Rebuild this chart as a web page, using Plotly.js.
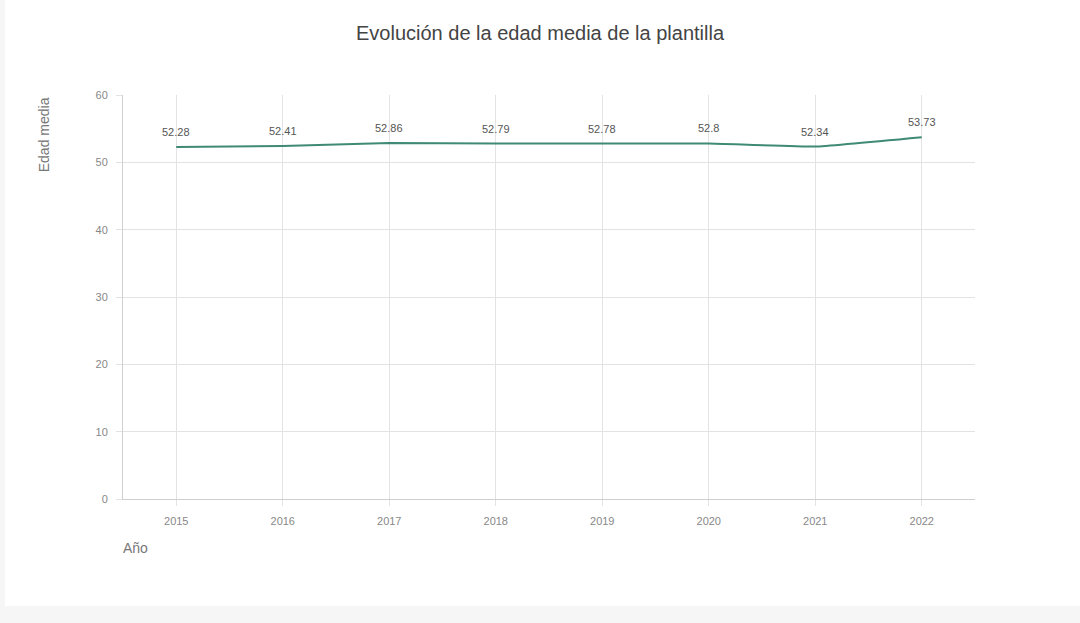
<!DOCTYPE html>
<html>
<head>
<meta charset="utf-8">
<script src="https://cdn.plot.ly/plotly-3.0.1.min.js"></script>
<style>
  html, body { margin: 0; padding: 0; width: 1080px; height: 623px; overflow: hidden; background: #f6f6f6; }
  #card { position: absolute; left: 5px; top: 0; width: 1075px; height: 606px; background: #ffffff; }
  #chart { position: absolute; left: 0; top: 0; width: 1080px; height: 623px; }
</style>
</head>
<body>
<div id="card"></div>
<div id="chart"></div>
<script>
const years = ['2015', '2016', '2017', '2018', '2019', '2020', '2021', '2022'];
const edadMedia = [52.28, 52.41, 52.86, 52.79, 52.78, 52.8, 52.34, 53.73];
const labels = ['52.28', '52.41', '52.86', '52.79', '52.78', '52.8', '52.34', '53.73'];
const yTicks = [0, 10, 20, 30, 40, 50, 60];

const FONT = 'Liberation Sans, Arial, sans-serif';

const trace = {
  x: years,
  y: edadMedia,
  type: 'scatter',
  mode: 'lines',
  line: { color: '#3f8a74', width: 2, shape: 'spline', smoothing: 0.3 },
  hoverinfo: 'x+y',
  cliponaxis: false
};

const valueLabels = years.map((yr, i) => ({
  x: i, y: edadMedia[i], xref: 'x', yref: 'y',
  text: labels[i], showarrow: false,
  xanchor: 'center', yanchor: 'middle', yshift: 15,
  font: { family: FONT, size: 11, color: '#555555' }
}));

const layout = {
  width: 1080,
  height: 623,
  margin: { l: 123, r: 105, t: 95, b: 124 },
  paper_bgcolor: 'rgba(0,0,0,0)',
  plot_bgcolor: 'rgba(0,0,0,0)',
  showlegend: false,
  title: {
    text: 'Evolución de la edad media de la plantilla',
    x: 0.5, xanchor: 'center', y: 0.947, yanchor: 'middle',
    font: { family: FONT, size: 20, color: '#444444' }
  },
  xaxis: {
    type: 'category',
    range: [-0.5, 7.5],
    showgrid: true,
    gridcolor: '#e3e3e3',
    gridwidth: 1,
    showline: true,
    linecolor: '#cfcfcf',
    linewidth: 1,
    ticks: 'outside',
    ticklen: 6,
    tickcolor: '#e3e3e3',
    ticklabelstandoff: 6,
    tickfont: { family: FONT, size: 11, color: '#888888' },
    fixedrange: true
  },
  yaxis: {
    range: [0, 60],
    tickvals: yTicks,
    ticktext: yTicks.map(String),
    showgrid: true,
    gridcolor: '#e3e3e3',
    gridwidth: 1,
    zeroline: false,
    showline: true,
    linecolor: '#cfcfcf',
    linewidth: 1,
    ticks: 'outside',
    ticklen: 6,
    tickcolor: '#e3e3e3',
    ticklabelstandoff: 6,
    tickfont: { family: FONT, size: 11, color: '#888888' },
    fixedrange: true
  },
  annotations: valueLabels.concat([
    {
      text: 'Edad media', xref: 'paper', yref: 'paper',
      x: -0.093, y: 1.0, xanchor: 'center', yanchor: 'top', textangle: -90,
      showarrow: false,
      font: { family: FONT, size: 14, color: '#777777' }
    },
    {
      text: 'Año', xref: 'paper', yref: 'paper',
      x: -0.002, y: -0.096, xanchor: 'left', yanchor: 'top',
      showarrow: false,
      font: { family: FONT, size: 14, color: '#777777' }
    }
  ])
};

Plotly.newPlot('chart', [trace], layout, { displayModeBar: false, staticPlot: true });
</script>
</body>
</html>
